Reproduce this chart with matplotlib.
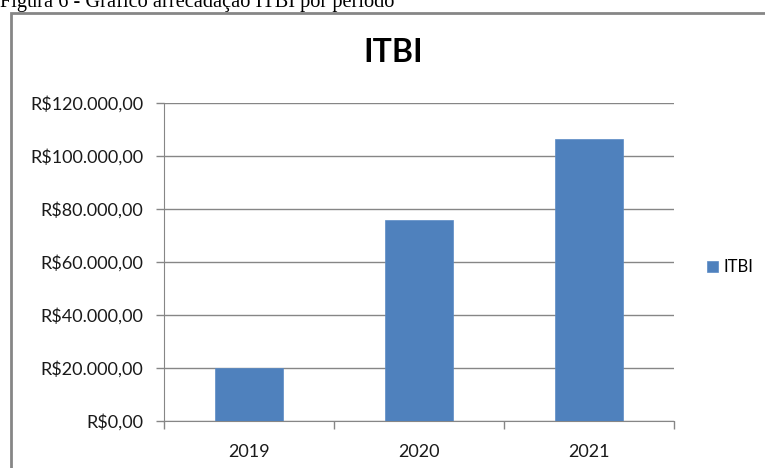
import matplotlib
matplotlib.use("Agg")
import matplotlib.pyplot as plt
from matplotlib.patches import Rectangle

categories = ["2019", "2020", "2021"]
values = [19700, 75600, 106400]
yticks = [0, 20000, 40000, 60000, 80000, 100000, 120000]
ytick_labels = ["R$0,00", "R$20.000,00", "R$40.000,00", "R$60.000,00",
                "R$80.000,00", "R$100.000,00", "R$120.000,00"]
series_name = "ITBI"
caption = "Figura 6 - Gráfico arrecadação ITBI por período"

W, H = 765, 468
fig = plt.figure(figsize=(W / 100, H / 100), dpi=100)
fig.patch.set_facecolor("white")

font = "Lato"
grey = "#868686"
txt = "#1a1a1a"

# caption (cut off at top, as in the reference)
fig.text(0 / W, 1 - 7 / H, caption, fontsize=14.7, family="Liberation Serif",
         color="black", ha="left", va="baseline")

# chart border
fig.patches.append(Rectangle((11 / W, -0.1), 1.2, 1 - 13 / H + 0.1,
                             transform=fig.transFigure, fill=False,
                             edgecolor=grey, linewidth=2))

left, right = 164 / W, 674 / W
bottom, top = 1 - 420.5 / H, 1 - 103 / H
ax = fig.add_axes([left, bottom, right - left, top - bottom])

x = list(range(len(categories)))
ax.bar(x, values, width=0.4, color="#4F81BD", edgecolor="#5B8BC6",
       linewidth=0.5, zorder=3, label=series_name)

ax.set_xlim(-0.5, len(categories) - 0.5)
ax.set_ylim(0, 120000)
ax.set_yticks(yticks)
ax.set_yticklabels(ytick_labels, fontsize=13, family=font, color=txt)
ax.set_xticks(x)
ax.set_xticklabels(categories, fontsize=13, family=font, color=txt)
ax.tick_params(axis="x", length=0, pad=17)
ax.set_xticks([i - 0.5 for i in range(len(categories) + 1)], minor=True)
ax.tick_params(axis="x", which="minor", length=6, color=grey, width=1)
ax.tick_params(axis="y", length=6, color=grey, width=1, pad=9)

ax.grid(axis="y", color=grey, linewidth=1, zorder=0)
for s in ["top", "right"]:
    ax.spines[s].set_visible(False)
ax.spines["left"].set_color(grey)
ax.spines["bottom"].set_color(grey)

fig.text(393 / W, 1 - 53 / H, "ITBI", fontsize=23, fontweight="bold",
         family=font, ha="center", va="center")

leg = ax.legend(loc="center left", bbox_to_anchor=(707 / W, 1 - 267 / H),
                bbox_transform=fig.transFigure, borderaxespad=0, borderpad=0,
                frameon=False, prop={"family": font, "size": 12},
                handlelength=0.65, handleheight=0.65, handletextpad=0.35)

fig.savefig("out.png", dpi=100)
